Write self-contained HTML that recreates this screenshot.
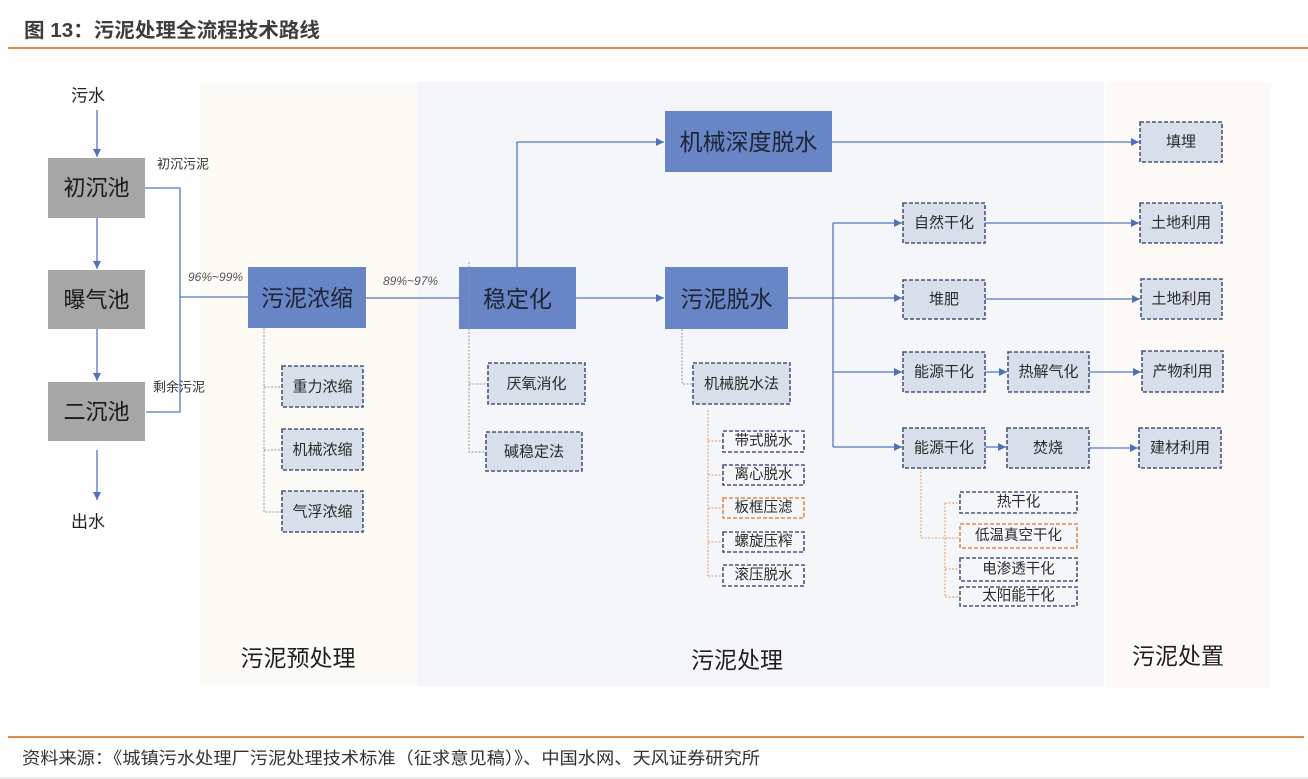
<!DOCTYPE html>
<html><head><meta charset="utf-8">
<style>
html,body{margin:0;padding:0;background:#fefefe;}
svg{display:block;}
text{font-family:"Liberation Sans","Noto Sans CJK SC",sans-serif;}
</style></head>
<body>
<svg width="1308" height="779" viewBox="0 0 1308 779" xmlns="http://www.w3.org/2000/svg">
<defs>
<marker id="ar" viewBox="0 0 10 10" refX="10" refY="5" markerWidth="8" markerHeight="8" markerUnits="userSpaceOnUse" orient="auto">
<path d="M0,0 L10,5 L0,10 z" fill="#4f72b5"/>
</marker>
</defs>
<rect x="0" y="0" width="1308" height="779" fill="#fefefe"/>
<rect x="0" y="777" width="1308" height="2" fill="#eeeeee"/>

<!-- title -->
<text x="24" y="37" font-size="20" font-weight="bold" fill="#3d3d3d" textLength="296" lengthAdjust="spacingAndGlyphs">图 13：污泥处理全流程技术路线</text>
<rect x="8" y="47" width="1300" height="2" fill="#e0894b"/>

<!-- regions -->
<rect x="200" y="82" width="218" height="604" fill="#fdfbf5"/>
<rect x="418" y="82" width="686" height="604" fill="#f4f6fa"/>
<rect x="1107" y="82" width="164" height="606" fill="#fdf9f6"/>

<!-- left column -->
<text x="88" y="96" font-size="17" fill="#222" text-anchor="middle" dominant-baseline="central">污水</text>
<g stroke="#5577bb" stroke-width="1.3" fill="none">
<line x1="97" y1="110" x2="97" y2="157" marker-end="url(#ar)"/>
<line x1="97" y1="218" x2="97" y2="269" marker-end="url(#ar)"/>
<line x1="97" y1="329" x2="97" y2="381" marker-end="url(#ar)"/>
<line x1="97" y1="450" x2="97" y2="500" marker-end="url(#ar)"/>
<polyline points="145,188 180,188 180,412 146,412"/>
<line x1="180" y1="297" x2="248" y2="297"/>
</g>
<text x="88" y="522" font-size="17" fill="#222" text-anchor="middle" dominant-baseline="central">出水</text>

<g fill="#a6a6a6">
<rect x="48" y="158" width="97" height="60"/>
<rect x="48" y="270" width="97" height="59"/>
<rect x="48" y="382" width="97" height="59"/>
</g>
<g font-size="22" fill="#1a1a1a" text-anchor="middle" dominant-baseline="central">
<text x="96.5" y="188">初沉池</text>
<text x="96.5" y="300">曝气池</text>
<text x="96.5" y="412">二沉池</text>
</g>
<g font-size="13" fill="#333" dominant-baseline="central">
<text x="157" y="164">初沉污泥</text>
<text x="153" y="387">剩余污泥</text>
</g>
<g font-size="12" fill="#555" font-style="italic" dominant-baseline="central">
<text x="188" y="277">96%~99%</text>
<text x="383" y="281">89%~97%</text>
</g>

<!-- main blue connectors -->
<g stroke="#5577bb" stroke-width="1.3" fill="none">
<line x1="366" y1="298" x2="459" y2="298"/>
<line x1="576" y1="298" x2="664" y2="298" marker-end="url(#ar)"/>
<polyline points="517,267 517,142 664,142" marker-end="url(#ar)"/>
<line x1="832" y1="142" x2="1139" y2="142" marker-end="url(#ar)"/>
<line x1="788" y1="298" x2="902" y2="298" marker-end="url(#ar)"/>
<line x1="833" y1="223" x2="833" y2="447"/>
<line x1="833" y1="223" x2="902" y2="223" marker-end="url(#ar)"/>
<line x1="833" y1="372" x2="902" y2="372" marker-end="url(#ar)"/>
<line x1="833" y1="447" x2="902" y2="447" marker-end="url(#ar)"/>
<line x1="985" y1="223" x2="1139" y2="223" marker-end="url(#ar)"/>
<line x1="985" y1="299" x2="1140" y2="299" marker-end="url(#ar)"/>
<line x1="985" y1="372" x2="1007" y2="372" marker-end="url(#ar)"/>
<line x1="985" y1="447" x2="1006" y2="447" marker-end="url(#ar)"/>
<line x1="1089" y1="372" x2="1141" y2="372" marker-end="url(#ar)"/>
<line x1="1089" y1="448" x2="1138" y2="448" marker-end="url(#ar)"/>
</g>

<!-- blue boxes -->
<g fill="#6886c5">
<rect x="248" y="267" width="118" height="61"/>
<rect x="459" y="267" width="117" height="62"/>
<rect x="665" y="111" width="167" height="61"/>
<rect x="665" y="267" width="123" height="62"/>
</g>
<g font-size="23" fill="#1e2436" text-anchor="middle" dominant-baseline="central">
<text x="307" y="298">污泥浓缩</text>
<text x="517.5" y="299">稳定化</text>
<text x="748.5" y="142">机械深度脱水</text>
<text x="726.5" y="299">污泥脱水</text>
</g>

<!-- dotted gray connectors -->
<g stroke="#8a97b5" stroke-width="1" stroke-dasharray="2,1.5" fill="none">
<polyline points="264,328 264,512 282,512"/>
<line x1="264" y1="387" x2="282" y2="387"/>
<line x1="264" y1="450" x2="282" y2="450"/>
<polyline points="469,262 469,452 486,452"/>
<line x1="469" y1="384" x2="488" y2="384"/>
<polyline points="682,329 682,384 693,384"/>
</g>
<!-- orange dotted connectors -->
<g stroke="#e39a5e" stroke-width="1" stroke-dasharray="2,1.5" fill="none">
<line x1="708" y1="410" x2="708" y2="576"/>
<line x1="708" y1="441" x2="723" y2="441"/>
<line x1="708" y1="475" x2="723" y2="475"/>
<line x1="708" y1="508" x2="723" y2="508"/>
<line x1="708" y1="542" x2="723" y2="542"/>
<line x1="708" y1="576" x2="723" y2="576"/>
<polyline points="921,468 921,538 960,538"/>
<line x1="945" y1="503" x2="945" y2="597"/>
<line x1="945" y1="503" x2="960" y2="503"/>
<line x1="945" y1="569" x2="960" y2="569"/>
<line x1="945" y1="597" x2="960" y2="597"/>
</g>

<!-- dashed boxes -->
<g fill="#d9dfea" stroke="#46577a" stroke-width="1.6" stroke-dasharray="4,2">
<rect x="282" y="366" width="81" height="41"/>
<rect x="282" y="429" width="81" height="41"/>
<rect x="282" y="491" width="81" height="41"/>
<rect x="488" y="363" width="97" height="41"/>
<rect x="486" y="432" width="96" height="39"/>
<rect x="693" y="363" width="97" height="41"/>
<rect x="903" y="203" width="82" height="40"/>
<rect x="903" y="280" width="82" height="39"/>
<rect x="903" y="352" width="82" height="40"/>
<rect x="903" y="428" width="82" height="40"/>
<rect x="1008" y="352" width="81" height="40"/>
<rect x="1007" y="428" width="82" height="40"/>
<rect x="1140" y="122" width="82" height="40"/>
<rect x="1140" y="203" width="82" height="40"/>
<rect x="1141" y="279" width="81" height="40"/>
<rect x="1142" y="351" width="81" height="41"/>
<rect x="1139" y="428" width="82" height="40"/>
</g>
<g fill="#f4f6fa" stroke="#46577a" stroke-width="1.6" stroke-dasharray="4,2">
<rect x="723" y="431" width="81" height="21"/>
<rect x="723" y="465" width="81" height="20"/>
<rect x="723" y="532" width="81" height="20"/>
<rect x="723" y="565" width="81" height="21"/>
<rect x="960" y="492" width="117" height="21"/>
<rect x="960" y="558" width="117" height="23"/>
<rect x="960" y="587" width="117" height="19"/>
</g>
<g fill="#f4f6fa" stroke="#e08a48" stroke-width="1.6" stroke-dasharray="4,2">
<rect x="723" y="498" width="81" height="20"/>
<rect x="960" y="524" width="117" height="24"/>
</g>

<g font-size="15" fill="#2a2a2a" text-anchor="middle" dominant-baseline="central">
<text x="322.5" y="387">重力浓缩</text>
<text x="322.5" y="450">机械浓缩</text>
<text x="322.5" y="512">气浮浓缩</text>
<text x="536.5" y="384">厌氧消化</text>
<text x="534" y="452">碱稳定法</text>
<text x="741.5" y="384">机械脱水法</text>
<text x="944" y="223">自然干化</text>
<text x="944" y="299.5">堆肥</text>
<text x="944" y="372">能源干化</text>
<text x="944" y="448">能源干化</text>
<text x="1048.5" y="372">热解气化</text>
<text x="1048" y="448">焚烧</text>
<text x="1181" y="142">填埋</text>
<text x="1181" y="223">土地利用</text>
<text x="1181.5" y="299">土地利用</text>
<text x="1182.5" y="371.5">产物利用</text>
<text x="1180" y="448">建材利用</text>
</g>
<g font-size="14.5" fill="#2a2a2a" text-anchor="middle" dominant-baseline="central">
<text x="763.5" y="441.5">带式脱水</text>
<text x="763.5" y="475">离心脱水</text>
<text x="763.5" y="508">板框压滤</text>
<text x="763.5" y="542">螺旋压榨</text>
<text x="763.5" y="575.5">滚压脱水</text>
<text x="1018.5" y="502.5">热干化</text>
<text x="1018.5" y="536">低温真空干化</text>
<text x="1018.5" y="569.5">电渗透干化</text>
<text x="1018.5" y="596.5">太阳能干化</text>
</g>

<!-- section labels -->
<g font-size="23" fill="#1f1f1f" text-anchor="middle" dominant-baseline="central">
<text x="298" y="658">污泥预处理</text>
<text x="737" y="660">污泥处理</text>
<text x="1178" y="656">污泥处置</text>
</g>

<!-- footer -->
<rect x="8" y="736" width="1296" height="2" fill="#e0894b"/>
<text x="22" y="764" font-size="17" fill="#333" textLength="738" lengthAdjust="spacingAndGlyphs">资料来源：《城镇污水处理厂污泥处理技术标准（征求意见稿）》、中国水网、天风证券研究所</text>
</svg>
</body></html>
